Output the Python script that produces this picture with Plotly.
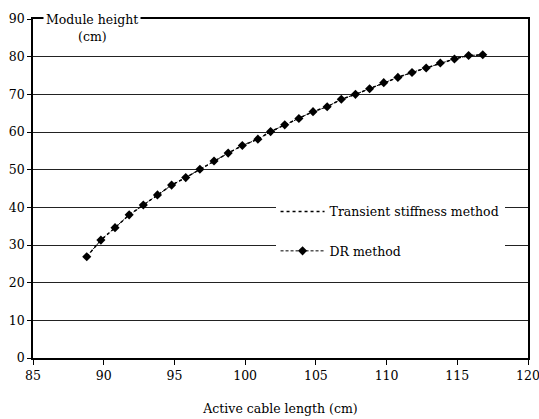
import plotly.graph_objects as go

# Active cable length (cm) and module height (cm)
dr_length = [88.8, 89.8, 90.8, 91.8, 92.8, 93.8, 94.8, 95.8, 96.8, 97.8,
             98.8, 99.8, 100.9, 101.8, 102.8, 103.8, 104.8, 105.8, 106.8, 107.8,
             108.8, 109.8, 110.8, 111.8, 112.8, 113.8, 114.8, 115.8, 116.8]
dr_height = [26.9, 31.3, 34.6, 38.0, 40.6, 43.3, 45.9, 47.9, 50.1, 52.3,
             54.4, 56.4, 58.1, 60.1, 61.9, 63.6, 65.4, 66.7, 68.7, 70.0,
             71.5, 73.1, 74.5, 75.8, 77.0, 78.3, 79.4, 80.3, 80.5]
ts_length = [88.8, 89.8, 90.8, 91.8, 92.8, 93.8, 94.8, 95.8, 96.8, 97.8,
             98.8, 99.8, 100.9, 101.8, 102.8, 103.8, 104.8, 105.8, 106.8, 107.8,
             108.8, 109.8, 110.8, 111.8, 112.8, 113.8, 114.8, 115.8, 116.8]
ts_height = [26.9, 31.3, 34.6, 38.0, 40.6, 43.3, 45.9, 47.9, 50.1, 52.3,
             54.4, 56.4, 58.1, 60.1, 61.9, 63.6, 65.4, 66.7, 68.7, 70.0,
             71.5, 73.1, 74.5, 75.8, 77.0, 78.3, 79.4, 80.3, 80.5]

FONT = "DejaVu Serif"
FS = 12.5

fig = go.Figure()
fig.add_trace(go.Scatter(
    x=ts_length, y=ts_height, mode="lines", name="Transient stiffness method",
    line=dict(color="black", width=1.5, dash="dot"), legendgroup="a"))
fig.add_trace(go.Scatter(
    x=dr_length, y=dr_height, mode="lines+markers", name="DR method",
    line=dict(color="black", width=1, dash="3px,2px"),
    marker=dict(symbol="diamond", size=7, color="black"), legendgroup="b"))

fig.update_layout(
    width=539, height=419,
    margin=dict(l=33, r=11, t=19, b=61, autoexpand=False),
    paper_bgcolor="white", plot_bgcolor="white",
    font=dict(family=FONT, size=FS, color="black"),
    showlegend=True,
    legend=dict(x=0.49, y=0.475, xanchor="left", yanchor="top",
                bgcolor="white", borderwidth=0, tracegroupgap=20,
                itemwidth=44,
                traceorder="grouped", font=dict(family=FONT, size=FS)),
    xaxis=dict(range=[85, 120], dtick=5, tick0=85, showgrid=False,
               showline=True, linecolor="black", linewidth=1.5, mirror=True,
               ticks="outside", ticklen=5, tickcolor="black", zeroline=False,
               automargin=False, ticklabeloverflow="allow",
               tickfont=dict(family=FONT, size=FS),
               title=dict(text="Active cable length (cm)", standoff=22,
                          font=dict(family=FONT, size=FS))),
    yaxis=dict(range=[0, 90], dtick=10, tick0=0, showgrid=True,
               gridcolor="#222222", gridwidth=1, automargin=False,
               tickfont=dict(family=FONT, size=FS),
               showline=True, linecolor="black", linewidth=1.5, mirror=True,
               ticks="outside", ticklen=4, tickcolor="black", zeroline=False),
    annotations=[
        dict(text="Module height", xref="paper", yref="paper",
             x=0.119, y=1.0, xanchor="center", yanchor="middle",
             showarrow=False, bgcolor="white", borderpad=2),
        dict(text="(cm)", xref="paper", yref="paper",
             x=0.121, y=(358 - 37) / 339, xanchor="center", yanchor="middle",
             showarrow=False),
    ],
)

fig.write_html("out.html", post_script="document.body.style.margin='0';",
               config={"displayModeBar": False})
